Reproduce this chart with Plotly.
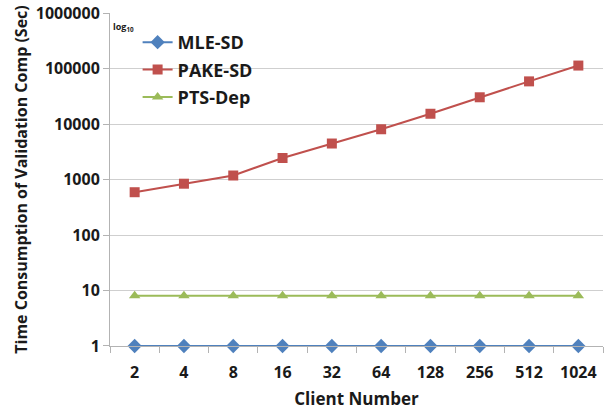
import plotly.graph_objects as go

clients = ["2", "4", "8", "16", "32", "64", "128", "256", "512", "1024"]
mle_sd = [1, 1, 1, 1, 1, 1, 1, 1, 1, 1]
pake_sd = [590, 840, 1180, 2440, 4450, 8040, 15300, 30300, 58600, 113000]
pts_dep = [8, 8, 8, 8, 8, 8, 8, 8, 8, 8]
y_ticks = [1, 10, 100, 1000, 10000, 100000, 1000000]
y_tick_labels = ["1", "10", "100", "1000", "10000", "100000", "1000000"]

font_family = "Open Sans, Liberation Sans, Arial, sans-serif"

fig = go.Figure()
fig.add_trace(go.Scatter(x=clients, y=mle_sd, name="MLE-SD", mode="lines+markers",
                         legendgroup="a", cliponaxis=False,
                         line=dict(color="#4F81BD", width=2),
                         marker=dict(symbol="diamond", size=11, color="#4F81BD")))
fig.add_trace(go.Scatter(x=clients, y=pake_sd, name="PAKE-SD", mode="lines+markers",
                         legendgroup="b", cliponaxis=False,
                         line=dict(color="#C0504D", width=2),
                         marker=dict(symbol="square", size=10, color="#C0504D")))
fig.add_trace(go.Scatter(x=clients, y=pts_dep, name="PTS-Dep", mode="lines+markers",
                         legendgroup="c", cliponaxis=False,
                         line=dict(color="#9BBB59", width=2),
                         marker=dict(symbol="triangle-up", size=10, color="#9BBB59")))

fig.update_layout(
    width=605, height=412,
    margin=dict(l=110, r=2, t=10, b=66),
    paper_bgcolor="white", plot_bgcolor="white",
    font=dict(family=font_family, size=16, color="#1a1a1a"),
    showlegend=True,
    legend=dict(x=0.056, y=0.967, xanchor="left", yanchor="top",
                bgcolor="rgba(0,0,0,0)", font=dict(size=18, family=font_family, weight="bold"),
                itemsizing="trace", tracegroupgap=1, traceorder="grouped"),
    xaxis=dict(type="category", range=[-0.5, 9.5],
               showgrid=False, showline=True, linecolor="#b3b3b3", linewidth=1,
               ticks="outside", tickson="boundaries", ticklen=6, tickcolor="#b3b3b3",
               ticklabelstandoff=12,
               tickfont=dict(size=16, weight="bold", family=font_family),
               title=dict(text="Client Number", font=dict(size=17, weight="bold", family=font_family), standoff=10)),
    yaxis=dict(type="log", range=[-0.0001, 6.0001],
               tickvals=y_ticks, ticktext=y_tick_labels, ticklabeloverflow="allow",
               showgrid=True, gridcolor="#cfcfcf", gridwidth=1,
               showline=True, linecolor="#b3b3b3", linewidth=1,
               ticks="outside", ticklen=6, tickcolor="#b3b3b3",
               tickfont=dict(size=16, weight="bold", family=font_family),
               title=dict(text="Time Consumption of Validation Comp (Sec)",
                          font=dict(size=16, weight="bold", family=font_family), standoff=4),
               zeroline=False),
    annotations=[dict(text="log<sub>10</sub>", xref="paper", yref="paper", x=0.002, y=0.985,
                      xanchor="left", yanchor="top", showarrow=False,
                      font=dict(size=9, family=font_family, weight="bold"))],
)

fig.write_html("out.html", config={"displayModeBar": False},
               post_script="document.documentElement.style.margin='0';document.body.style.margin='0';document.body.style.padding='0';")
